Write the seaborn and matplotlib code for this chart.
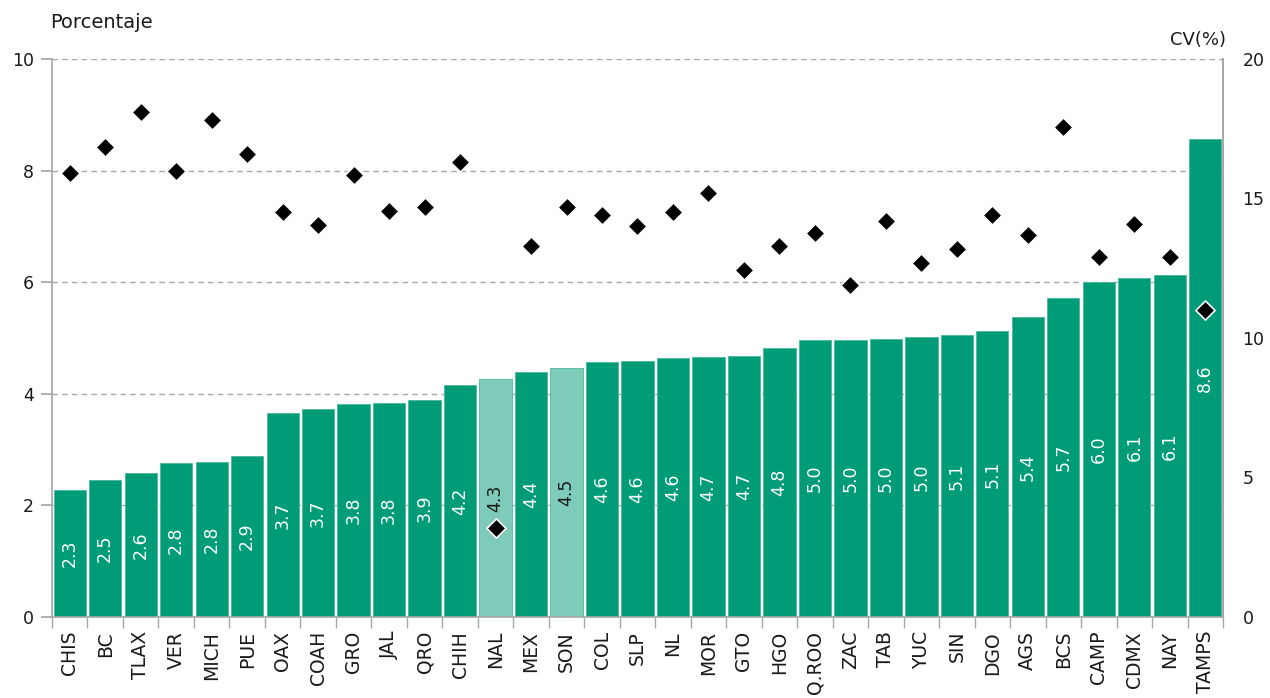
import matplotlib
matplotlib.use("Agg")
import matplotlib.pyplot as plt
import seaborn as sns
import numpy as np
import pandas as pd

estados = ["CHIS", "BC", "TLAX", "VER", "MICH", "PUE", "OAX", "COAH", "GRO", "JAL",
           "QRO", "CHIH", "NAL", "MEX", "SON", "COL", "SLP", "NL", "MOR", "GTO",
           "HGO", "Q.ROO", "ZAC", "TAB", "YUC", "SIN", "DGO", "AGS", "BCS", "CAMP",
           "CDMX", "NAY", "TAMPS"]
porcentaje = [2.28, 2.46, 2.58, 2.76, 2.78, 2.89, 3.66, 3.73, 3.82, 3.84,
              3.89, 4.16, 4.26, 4.39, 4.46, 4.57, 4.59, 4.64, 4.66, 4.68,
              4.82, 4.96, 4.97, 4.99, 5.01, 5.06, 5.13, 5.37, 5.72, 6.01,
              6.08, 6.13, 8.56]
cv = [15.9, 16.85, 18.1, 16.0, 17.8, 16.6, 14.5, 14.05, 15.85, 14.55,
      14.7, 16.3, 3.2, 13.3, 14.7, 14.4, 14.0, 14.5, 15.2, 12.45,
      13.3, 13.76, 11.9, 14.2, 12.7, 13.2, 14.4, 13.7, 17.56, 12.9,
      14.1, 12.9, 11.0]
destacados = ["NAL", "SON"]

VERDE = "#009B77"
VERDE_CLARO = "#7FCBB9"
GRIS = "#A6A6A6"
TEXTO = "#1A1A1A"

sns.set_theme(style="white")
plt.rcParams["font.family"] = ["DejaVu Sans"]

df = pd.DataFrame({"estado": estados, "porcentaje": porcentaje, "cv": cv})
df["x"] = np.arange(len(df))
colores = {e: (VERDE_CLARO if e in destacados else VERDE) for e in estados}

fig = plt.figure(figsize=(12.7, 6.98), dpi=100)
ax = fig.add_axes([52 / 1270, 1 - 617 / 698, (1223 - 52) / 1270, (617 - 59) / 698])

sns.barplot(data=df, x="estado", y="porcentaje", hue="estado", palette=colores,
            width=0.91, saturation=1, legend=False, ax=ax, zorder=2,
            edgecolor="#4DB89C", linewidth=0.6)

ax.set_ylim(0, 10)
ax.set_xlim(-0.5, len(df) - 0.5)
ax.set_yticks([0, 2, 4, 6, 8, 10])
ax.yaxis.grid(True, linestyle=(0, (4, 3)), color=GRIS, linewidth=1)
ax.set_axisbelow(True)
ax.set_xlabel("")
ax.set_ylabel("")

ax.spines["top"].set_visible(False)
for s in ["left", "right", "bottom"]:
    ax.spines[s].set_color(GRIS)
    ax.spines[s].set_linewidth(1.2)

ax.tick_params(axis="y", which="major", left=True, length=8, color=GRIS,
               labelsize=12.5, labelcolor=TEXTO, pad=5)
ax.set_xticks(df["x"])
ax.set_xticklabels(estados, rotation=90)
ax.tick_params(axis="x", which="major", bottom=False, length=0, labelsize=13.5,
               labelcolor=TEXTO, pad=10)
ax.set_xticks(np.arange(-0.5, len(df), 1), minor=True)
ax.tick_params(axis="x", which="minor", bottom=True, length=8, color=GRIS, width=1)

# value labels centred inside each bar
for xi, (e, v) in enumerate(zip(estados, porcentaje)):
    col = TEXTO if e in destacados else "white"
    ax.text(xi, v / 2, f"{v:.1f}", rotation=90, ha="center", va="center",
            fontsize=12.5, color=col, zorder=5)

ax2 = ax.twinx()
sns.scatterplot(data=df, x="x", y="cv", marker="D", s=95, color="black",
                edgecolor="white", linewidth=1.2, ax=ax2, zorder=6, legend=False)
ax2.set_ylim(0, 20)
ax2.set_yticks([0, 5, 10, 15, 20])
ax2.set_xlim(-0.5, len(df) - 0.5)
ax2.set_ylabel("")
ax2.set_xlabel("")
ax2.tick_params(axis="y", right=False, length=0, labelsize=12.5,
                labelcolor=TEXTO, pad=14)
for s in ["top", "left", "bottom"]:
    ax2.spines[s].set_visible(False)
ax2.spines["right"].set_color(GRIS)
ax2.spines["right"].set_linewidth(1.2)
ax2.grid(False)

fig.text(50 / 1270, 1 - 23 / 698, "Porcentaje", ha="left", va="center",
         fontsize=14, color=TEXTO)
fig.text(1226 / 1270, 1 - 40 / 698, "CV(%)", ha="right", va="center",
         fontsize=13, color=TEXTO)

fig.savefig("out.png", dpi=100)
